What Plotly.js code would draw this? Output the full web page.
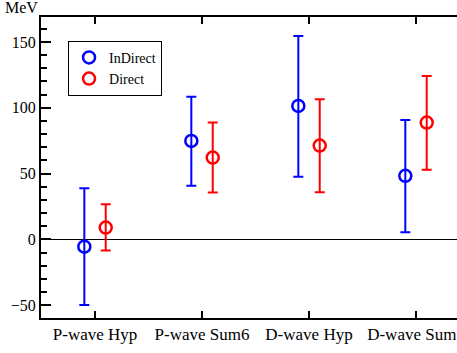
<!DOCTYPE html>
<html>
<head>
<meta charset="utf-8">
<script src="https://cdn.plot.ly/plotly-3.0.1.min.js"></script>
<style>
  html, body { margin: 0; padding: 0; background: #fff; overflow: hidden; }
  #chart { width: 457px; height: 353px; }
</style>
</head>
<body>
<div id="chart"></div>
<script>
// channels on the x axis
const categories = ['P-wave Hyp', 'P-wave Sum6', 'D-wave Hyp', 'D-wave Sum6'];

// InDirect: central value, upper and lower error (MeV)
const indirectVal = [-5.5, 74.8, 101.4, 48.3];
const indirectUp  = [44.4, 33.7, 53.2, 42.5];
const indirectLow = [44.3, 34.1, 53.7, 42.8];

// Direct
const directVal = [9.0, 62.2, 71.3, 88.8];
const directUp  = [17.7, 26.6, 35.2, 35.4];
const directLow = [17.5, 26.6, 35.4, 35.8];

const shift = 0.1;
const font = 'Times New Roman, Liberation Serif, DejaVu Serif, serif';

function trace(name, vals, up, low, color, dx) {
    return {
        x: categories.map((c, i) => i + dx),
        y: vals,
        name: name,
        type: 'scatter',
        mode: 'markers',
        marker: { symbol: 'circle-open', size: 12, color: color, line: { width: 2.5, color: color } },
        error_y: { type: 'data', symmetric: false, array: up, arrayminus: low,
                   color: color, thickness: 2, width: 5 }
    };
}

const layout = {
    width: 457, height: 353,
    margin: { l: 41, r: 0, t: 17, b: 35 },
    paper_bgcolor: '#fff', plot_bgcolor: '#fff',
    font: { family: font, size: 16, color: '#000' },
    showlegend: true,
    legend: {
        x: 0.065, y: 0.921, xanchor: 'left', yanchor: 'top',
        bordercolor: '#000', borderwidth: 1, bgcolor: '#fff',
        font: { family: font, size: 14, color: '#000' },
        itemwidth: 30, tracegroupgap: 0
    },
    xaxis: {
        range: [-0.505, 3.383],
        tickvals: categories.map((c, i) => i),
        ticktext: categories,
        ticklabeloverflow: 'allow',
        ticks: 'inside', ticklen: 7, tickwidth: 2, tickcolor: '#000',
        showline: true, linewidth: 2, linecolor: '#000', mirror: 'ticks',
        showgrid: false, zeroline: false,
        tickfont: { family: font, size: 17, color: '#000' }
    },
    yaxis: {
        range: [-59.7, 169],
        tickvals: [-50, 0, 50, 100, 150],
        ticks: 'inside', ticklen: 10, tickwidth: 2, tickcolor: '#000',
        minor: { dtick: 10, ticks: 'inside', ticklen: 6, tickwidth: 2, tickcolor: '#000', showgrid: false },
        showline: true, linewidth: 2, linecolor: '#000', mirror: false,
        showgrid: false,
        zeroline: true, zerolinecolor: '#000', zerolinewidth: 1,
        tickfont: { family: font, size: 16, color: '#000' }
    },
    annotations: [{
        text: 'MeV', xref: 'paper', yref: 'paper',
        x: -0.09, y: 1.056, xanchor: 'left', yanchor: 'top',
        showarrow: false, borderpad: 0, yshift: 2,
        font: { family: font, size: 16, color: '#000' }
    }]
};

Plotly.newPlot('chart', [
    trace('InDirect', indirectVal, indirectUp, indirectLow, '#0000ff', -shift),
    trace('Direct', directVal, directUp, directLow, '#ff0000', shift)
], layout, { displayModeBar: false, staticPlot: true });
</script>
</body>
</html>
